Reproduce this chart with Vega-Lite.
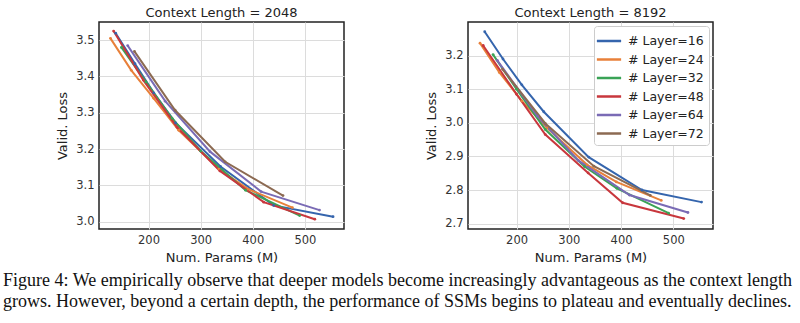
{
  "$schema": "https://vega.github.io/schema/vega-lite/v6.json",
  "padding": {"left": 2, "top": 6, "right": 2, "bottom": 2},
  "config": {
    "font": "DejaVu Sans",
    "view": {"stroke": "#222", "strokeWidth": 1.5},
    "axis": {"grid": true, "gridColor": "#dcdcdc", "domain": false, "ticks": false, "labelFontSize": 11.5, "labelColor": "#333", "titleFontSize": 13, "titleFontWeight": "normal", "titleColor": "#222", "labelPadding": 5, "titlePadding": 6},
    "concat": {"spacing": 79}
  },
  "title": {
    "text": ["Figure 4: We empirically observe that deeper models become increasingly advantageous as the context length", "grows. However, beyond a certain depth, the performance of SSMs begins to plateau and eventually declines."],
    "orient": "bottom", "anchor": "start", "frame": "bounds", "font": "Liberation Serif", "fontSize": 18, "fontWeight": "normal", "color": "#111", "lineHeight": 21, "offset": 7, "dx": -53
  },
  "datasets": {
    "d": [
      {"ctx": 2048, "layer": "# Layer=16", "params": 137, "loss": 3.519},
      {"ctx": 2048, "layer": "# Layer=16", "params": 174, "loss": 3.435},
      {"ctx": 2048, "layer": "# Layer=16", "params": 210, "loss": 3.355},
      {"ctx": 2048, "layer": "# Layer=16", "params": 252, "loss": 3.272},
      {"ctx": 2048, "layer": "# Layer=16", "params": 338, "loss": 3.152},
      {"ctx": 2048, "layer": "# Layer=16", "params": 440, "loss": 3.045},
      {"ctx": 2048, "layer": "# Layer=16", "params": 554, "loss": 3.014},
      {"ctx": 2048, "layer": "# Layer=24", "params": 127, "loss": 3.505},
      {"ctx": 2048, "layer": "# Layer=24", "params": 167, "loss": 3.417},
      {"ctx": 2048, "layer": "# Layer=24", "params": 210, "loss": 3.34},
      {"ctx": 2048, "layer": "# Layer=24", "params": 258, "loss": 3.252},
      {"ctx": 2048, "layer": "# Layer=24", "params": 335, "loss": 3.145},
      {"ctx": 2048, "layer": "# Layer=24", "params": 391, "loss": 3.09},
      {"ctx": 2048, "layer": "# Layer=24", "params": 476, "loss": 3.039},
      {"ctx": 2048, "layer": "# Layer=32", "params": 148, "loss": 3.48},
      {"ctx": 2048, "layer": "# Layer=32", "params": 195, "loss": 3.385},
      {"ctx": 2048, "layer": "# Layer=32", "params": 245, "loss": 3.285},
      {"ctx": 2048, "layer": "# Layer=32", "params": 300, "loss": 3.195},
      {"ctx": 2048, "layer": "# Layer=32", "params": 386, "loss": 3.087},
      {"ctx": 2048, "layer": "# Layer=32", "params": 490, "loss": 3.017},
      {"ctx": 2048, "layer": "# Layer=48", "params": 133, "loss": 3.525},
      {"ctx": 2048, "layer": "# Layer=48", "params": 190, "loss": 3.39},
      {"ctx": 2048, "layer": "# Layer=48", "params": 255, "loss": 3.26},
      {"ctx": 2048, "layer": "# Layer=48", "params": 337, "loss": 3.14},
      {"ctx": 2048, "layer": "# Layer=48", "params": 421, "loss": 3.054},
      {"ctx": 2048, "layer": "# Layer=48", "params": 519, "loss": 3.007},
      {"ctx": 2048, "layer": "# Layer=64", "params": 160, "loss": 3.485},
      {"ctx": 2048, "layer": "# Layer=64", "params": 232, "loss": 3.332},
      {"ctx": 2048, "layer": "# Layer=64", "params": 318, "loss": 3.193},
      {"ctx": 2048, "layer": "# Layer=64", "params": 416, "loss": 3.083},
      {"ctx": 2048, "layer": "# Layer=64", "params": 528, "loss": 3.032},
      {"ctx": 2048, "layer": "# Layer=72", "params": 173, "loss": 3.469},
      {"ctx": 2048, "layer": "# Layer=72", "params": 251, "loss": 3.307},
      {"ctx": 2048, "layer": "# Layer=72", "params": 347, "loss": 3.165},
      {"ctx": 2048, "layer": "# Layer=72", "params": 458, "loss": 3.072},
      {"ctx": 8192, "layer": "# Layer=16", "params": 139, "loss": 3.271},
      {"ctx": 8192, "layer": "# Layer=16", "params": 174, "loss": 3.19},
      {"ctx": 8192, "layer": "# Layer=16", "params": 210, "loss": 3.113},
      {"ctx": 8192, "layer": "# Layer=16", "params": 252, "loss": 3.033},
      {"ctx": 8192, "layer": "# Layer=16", "params": 338, "loss": 2.898},
      {"ctx": 8192, "layer": "# Layer=16", "params": 440, "loss": 2.8},
      {"ctx": 8192, "layer": "# Layer=16", "params": 554, "loss": 2.764},
      {"ctx": 8192, "layer": "# Layer=24", "params": 130, "loss": 3.237},
      {"ctx": 8192, "layer": "# Layer=24", "params": 167, "loss": 3.15},
      {"ctx": 8192, "layer": "# Layer=24", "params": 210, "loss": 3.065},
      {"ctx": 8192, "layer": "# Layer=24", "params": 258, "loss": 2.985},
      {"ctx": 8192, "layer": "# Layer=24", "params": 335, "loss": 2.875},
      {"ctx": 8192, "layer": "# Layer=24", "params": 391, "loss": 2.824},
      {"ctx": 8192, "layer": "# Layer=24", "params": 477, "loss": 2.769},
      {"ctx": 8192, "layer": "# Layer=32", "params": 155, "loss": 3.203},
      {"ctx": 8192, "layer": "# Layer=32", "params": 200, "loss": 3.1},
      {"ctx": 8192, "layer": "# Layer=32", "params": 255, "loss": 2.98},
      {"ctx": 8192, "layer": "# Layer=32", "params": 330, "loss": 2.87},
      {"ctx": 8192, "layer": "# Layer=32", "params": 392, "loss": 2.805},
      {"ctx": 8192, "layer": "# Layer=32", "params": 491, "loss": 2.731},
      {"ctx": 8192, "layer": "# Layer=48", "params": 136, "loss": 3.23},
      {"ctx": 8192, "layer": "# Layer=48", "params": 200, "loss": 3.085},
      {"ctx": 8192, "layer": "# Layer=48", "params": 255, "loss": 2.965},
      {"ctx": 8192, "layer": "# Layer=48", "params": 337, "loss": 2.851},
      {"ctx": 8192, "layer": "# Layer=48", "params": 403, "loss": 2.762},
      {"ctx": 8192, "layer": "# Layer=48", "params": 520, "loss": 2.715},
      {"ctx": 8192, "layer": "# Layer=64", "params": 163, "loss": 3.186},
      {"ctx": 8192, "layer": "# Layer=64", "params": 240, "loss": 3.02},
      {"ctx": 8192, "layer": "# Layer=64", "params": 318, "loss": 2.888},
      {"ctx": 8192, "layer": "# Layer=64", "params": 416, "loss": 2.785},
      {"ctx": 8192, "layer": "# Layer=64", "params": 528, "loss": 2.733},
      {"ctx": 8192, "layer": "# Layer=72", "params": 173, "loss": 3.16},
      {"ctx": 8192, "layer": "# Layer=72", "params": 255, "loss": 2.998},
      {"ctx": 8192, "layer": "# Layer=72", "params": 348, "loss": 2.871},
      {"ctx": 8192, "layer": "# Layer=72", "params": 456, "loss": 2.784}
    ]
  },
  "resolve": {"scale": {"color": "independent"}},
  "hconcat": [
    {
      "width": 245, "height": 207,
      "title": {"text": "Context Length = 2048", "fontSize": 13, "fontWeight": "normal", "color": "#222", "offset": 2},
      "data": {"name": "d"},
      "transform": [{"filter": "datum.ctx == 2048"}],
      "mark": {"type": "line", "strokeWidth": 2, "point": {"filled": true, "size": 8}},
      "encoding": {
        "x": {"field": "params", "type": "quantitative", "scale": {"domain": [105, 575], "nice": false}, "axis": {"values": [200, 300, 400, 500], "title": "Num. Params (M)"}},
        "y": {"field": "loss", "type": "quantitative", "scale": {"domain": [2.98, 3.55], "nice": false, "zero": false}, "axis": {"values": [3.0, 3.1, 3.2, 3.3, 3.4, 3.5], "format": ".1f", "title": "Valid. Loss"}},
        "color": {"field": "layer", "type": "nominal", "scale": {"domain": ["# Layer=16", "# Layer=24", "# Layer=32", "# Layer=48", "# Layer=64", "# Layer=72"], "range": ["#3565ad", "#e8803a", "#3aa356", "#c8373d", "#7a6bb5", "#8c6a52"]}, "legend": null}
      }
    },
    {
      "width": 245, "height": 207,
      "title": {"text": "Context Length = 8192", "fontSize": 13, "fontWeight": "normal", "color": "#222", "offset": 2},
      "data": {"name": "d"},
      "transform": [{"filter": "datum.ctx == 8192"}],
      "mark": {"type": "line", "strokeWidth": 2, "point": {"filled": true, "size": 8}},
      "encoding": {
        "x": {"field": "params", "type": "quantitative", "scale": {"domain": [107, 576], "nice": false}, "axis": {"values": [200, 300, 400, 500], "title": "Num. Params (M)"}},
        "y": {"field": "loss", "type": "quantitative", "scale": {"domain": [2.684, 3.3], "nice": false, "zero": false}, "axis": {"values": [2.7, 2.8, 2.9, 3.0, 3.1, 3.2], "format": ".1f", "title": "Valid. Loss"}},
        "color": {"field": "layer", "type": "nominal", "scale": {"domain": ["# Layer=16", "# Layer=24", "# Layer=32", "# Layer=48", "# Layer=64", "# Layer=72"], "range": ["#3565ad", "#e8803a", "#3aa356", "#c8373d", "#7a6bb5", "#8c6a52"]},
          "legend": {"orient": "top-right", "title": null, "offset": 4, "fillColor": "white", "strokeColor": "#cccccc", "cornerRadius": 3, "padding": 5, "labelFontSize": 12.5, "labelColor": "#222", "symbolType": "M-1.4,0H1.4", "symbolStrokeWidth": 2.5, "symbolSize": 300, "rowPadding": 1.5, "labelOffset": 9}}
      }
    }
  ]
}
